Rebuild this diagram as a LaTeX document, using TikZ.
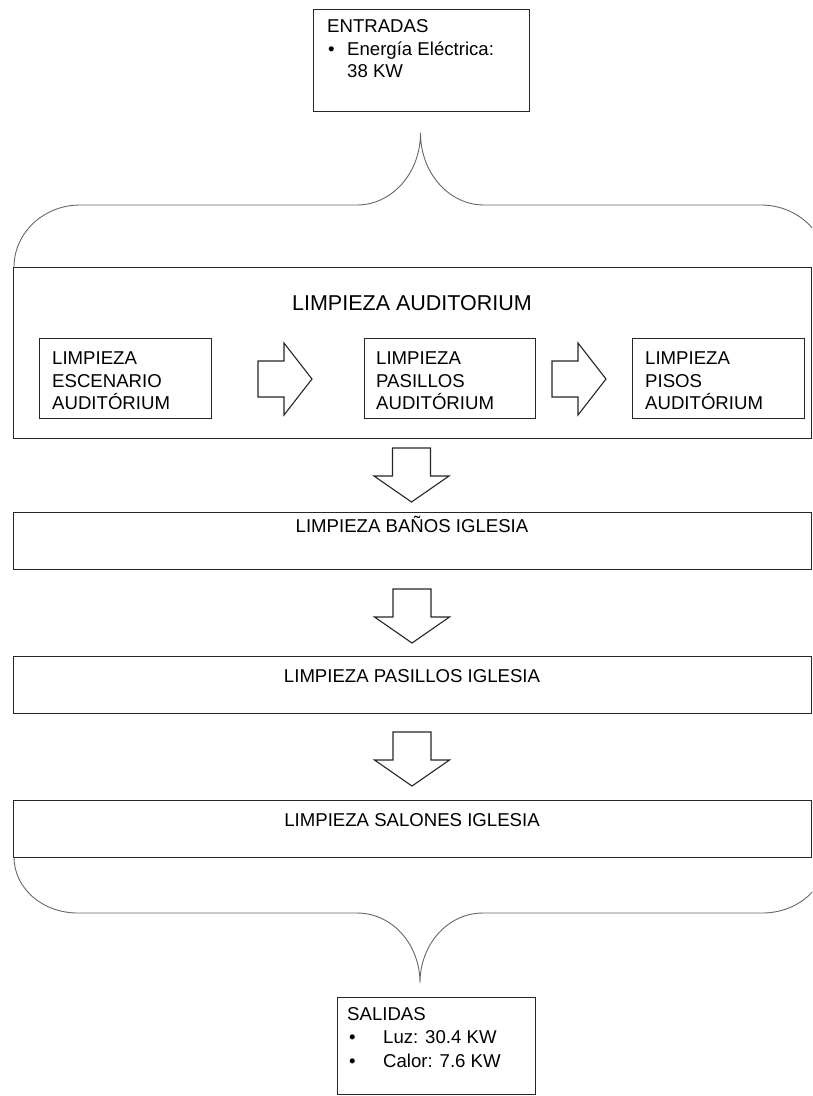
\documentclass[tikz,border=0pt]{standalone}
\usepackage{fontspec}
\setmainfont{Liberation Sans}
\newcommand\bodyfont{\fontsize{18.6}{22.7}\selectfont}
\newcommand\titlefont{\fontsize{21.5}{26}\selectfont}
\begin{document}
\begin{tikzpicture}[x=1pt,y=-1pt,
  box/.style={draw=black!85, line width=1.3pt, rectangle, inner sep=0pt, anchor=north west},
  brace/.style={draw=black!60, line width=0.9pt},
  blockarrow/.style={draw=black!85, line width=1.1pt, fill=white, line join=miter},
  txt/.style={inner sep=0pt, font=\bodyfont, anchor=base west},
  ctxt/.style={inner sep=0pt, font=\bodyfont, anchor=base},
  blockdown/.pic={\draw[blockarrow] (-19,0) -- (19,0) -- (19,28) -- (37.5,28) -- (0,54) -- (-37.5,28) -- (-19,28) -- cycle;},
  blockright/.pic={\draw[blockarrow] (0,-18) -- (26,-18) -- (26,-36) -- (54,0) -- (26,36) -- (26,18) -- (0,18) -- cycle;}
]
\useasboundingbox (0,0) rectangle (812,1096);
\clip (0,0) rectangle (812,1096);

% inputs
\node[box, minimum width=216, minimum height=102] (entradas) at (313,9) {};
\node[txt] (ent1) at (327,32) {ENTRADAS};
\node[txt] (ent2) at (328,55) {•};
\node[txt] (ent3) at (347,55) {Energía Eléctrica:};
\node[txt] (ent4) at (347,77) {38 KW};

% upper brace
\coordinate (toptip) at (420.5,133);
\draw[brace] (14,267) .. controls (14,233) and (43.5,205) .. (80,205) -- (357,205)
  .. controls (392,205) and (toptip |- 0,173) .. (toptip)
  .. controls (420.5,173) and (449,205) .. (484,205) -- (761,205)
  .. controls (797.5,205) and (827,233) .. (827,267);

% auditorium block
\node[box, minimum width=798, minimum height=171] (audit) at (13,267) {};
\node[inner sep=0pt, font=\titlefont, anchor=base] (audtitle) at (412,310) {LIMPIEZA AUDITORIUM};

\node[box, minimum width=172, minimum height=80] (esc) at (39,338) {};
\node[txt] (esc1) at (52,364) {LIMPIEZA};
\node[txt] (esc2) at (52,387) {ESCENARIO};
\node[txt] (esc3) at (52,409) {AUDITÓRIUM};

\node[box, minimum width=171, minimum height=80] (pas) at (364,338) {};
\node[txt] (pas1) at (376,364) {LIMPIEZA};
\node[txt] (pas2) at (376,387) {PASILLOS};
\node[txt] (pas3) at (376,409) {AUDITÓRIUM};

\node[box, minimum width=172, minimum height=80] (pis) at (632,338) {};
\node[txt] (pis1) at (645,364) {LIMPIEZA};
\node[txt] (pis2) at (645,387) {PISOS};
\node[txt] (pis3) at (645,409) {AUDITÓRIUM};

\pic (arrR1) at (258,379) {blockright};
\pic (arrR2) at (552,379) {blockright};

% church blocks
\pic (arrD1) at (411.5,448) {blockdown};
\node[box, minimum width=798, minimum height=57] (banos) at (13,512) {};
\node[ctxt] (banost) at (412,532) {LIMPIEZA BAÑOS IGLESIA};

\pic (arrD2) at (412,589) {blockdown};
\node[box, minimum width=798, minimum height=57] (pasig) at (13,656) {};
\node[ctxt] (pasigt) at (412,682) {LIMPIEZA PASILLOS IGLESIA};

\pic (arrD3) at (412,732) {blockdown};
\node[box, minimum width=798, minimum height=57] (salones) at (13,800) {};
\node[ctxt] (salonest) at (412,826) {LIMPIEZA SALONES IGLESIA};

% lower brace
\coordinate (bottip) at (420,983);
\draw[brace] (14,857) .. controls (14,888) and (42,913) .. (78,913) -- (357,913)
  .. controls (392,913) and (420,944) .. (bottip)
  .. controls (420,944) and (448,913) .. (483,913) -- (762,913)
  .. controls (798,913) and (826,888) .. (826,857);

% outputs
\node[box, minimum width=198, minimum height=97] (salidas) at (337,997) {};
\node[txt] (sal1) at (347,1020) {SALIDAS};
\node[txt] (sal2) at (349,1043) {•};
\node[txt] (sal3) at (383,1043) {Luz: 30.4 KW};
\node[txt] (sal4) at (349,1067) {•};
\node[txt] (sal5) at (383,1067) {Calor: 7.6 KW};
\end{tikzpicture}
\end{document}
